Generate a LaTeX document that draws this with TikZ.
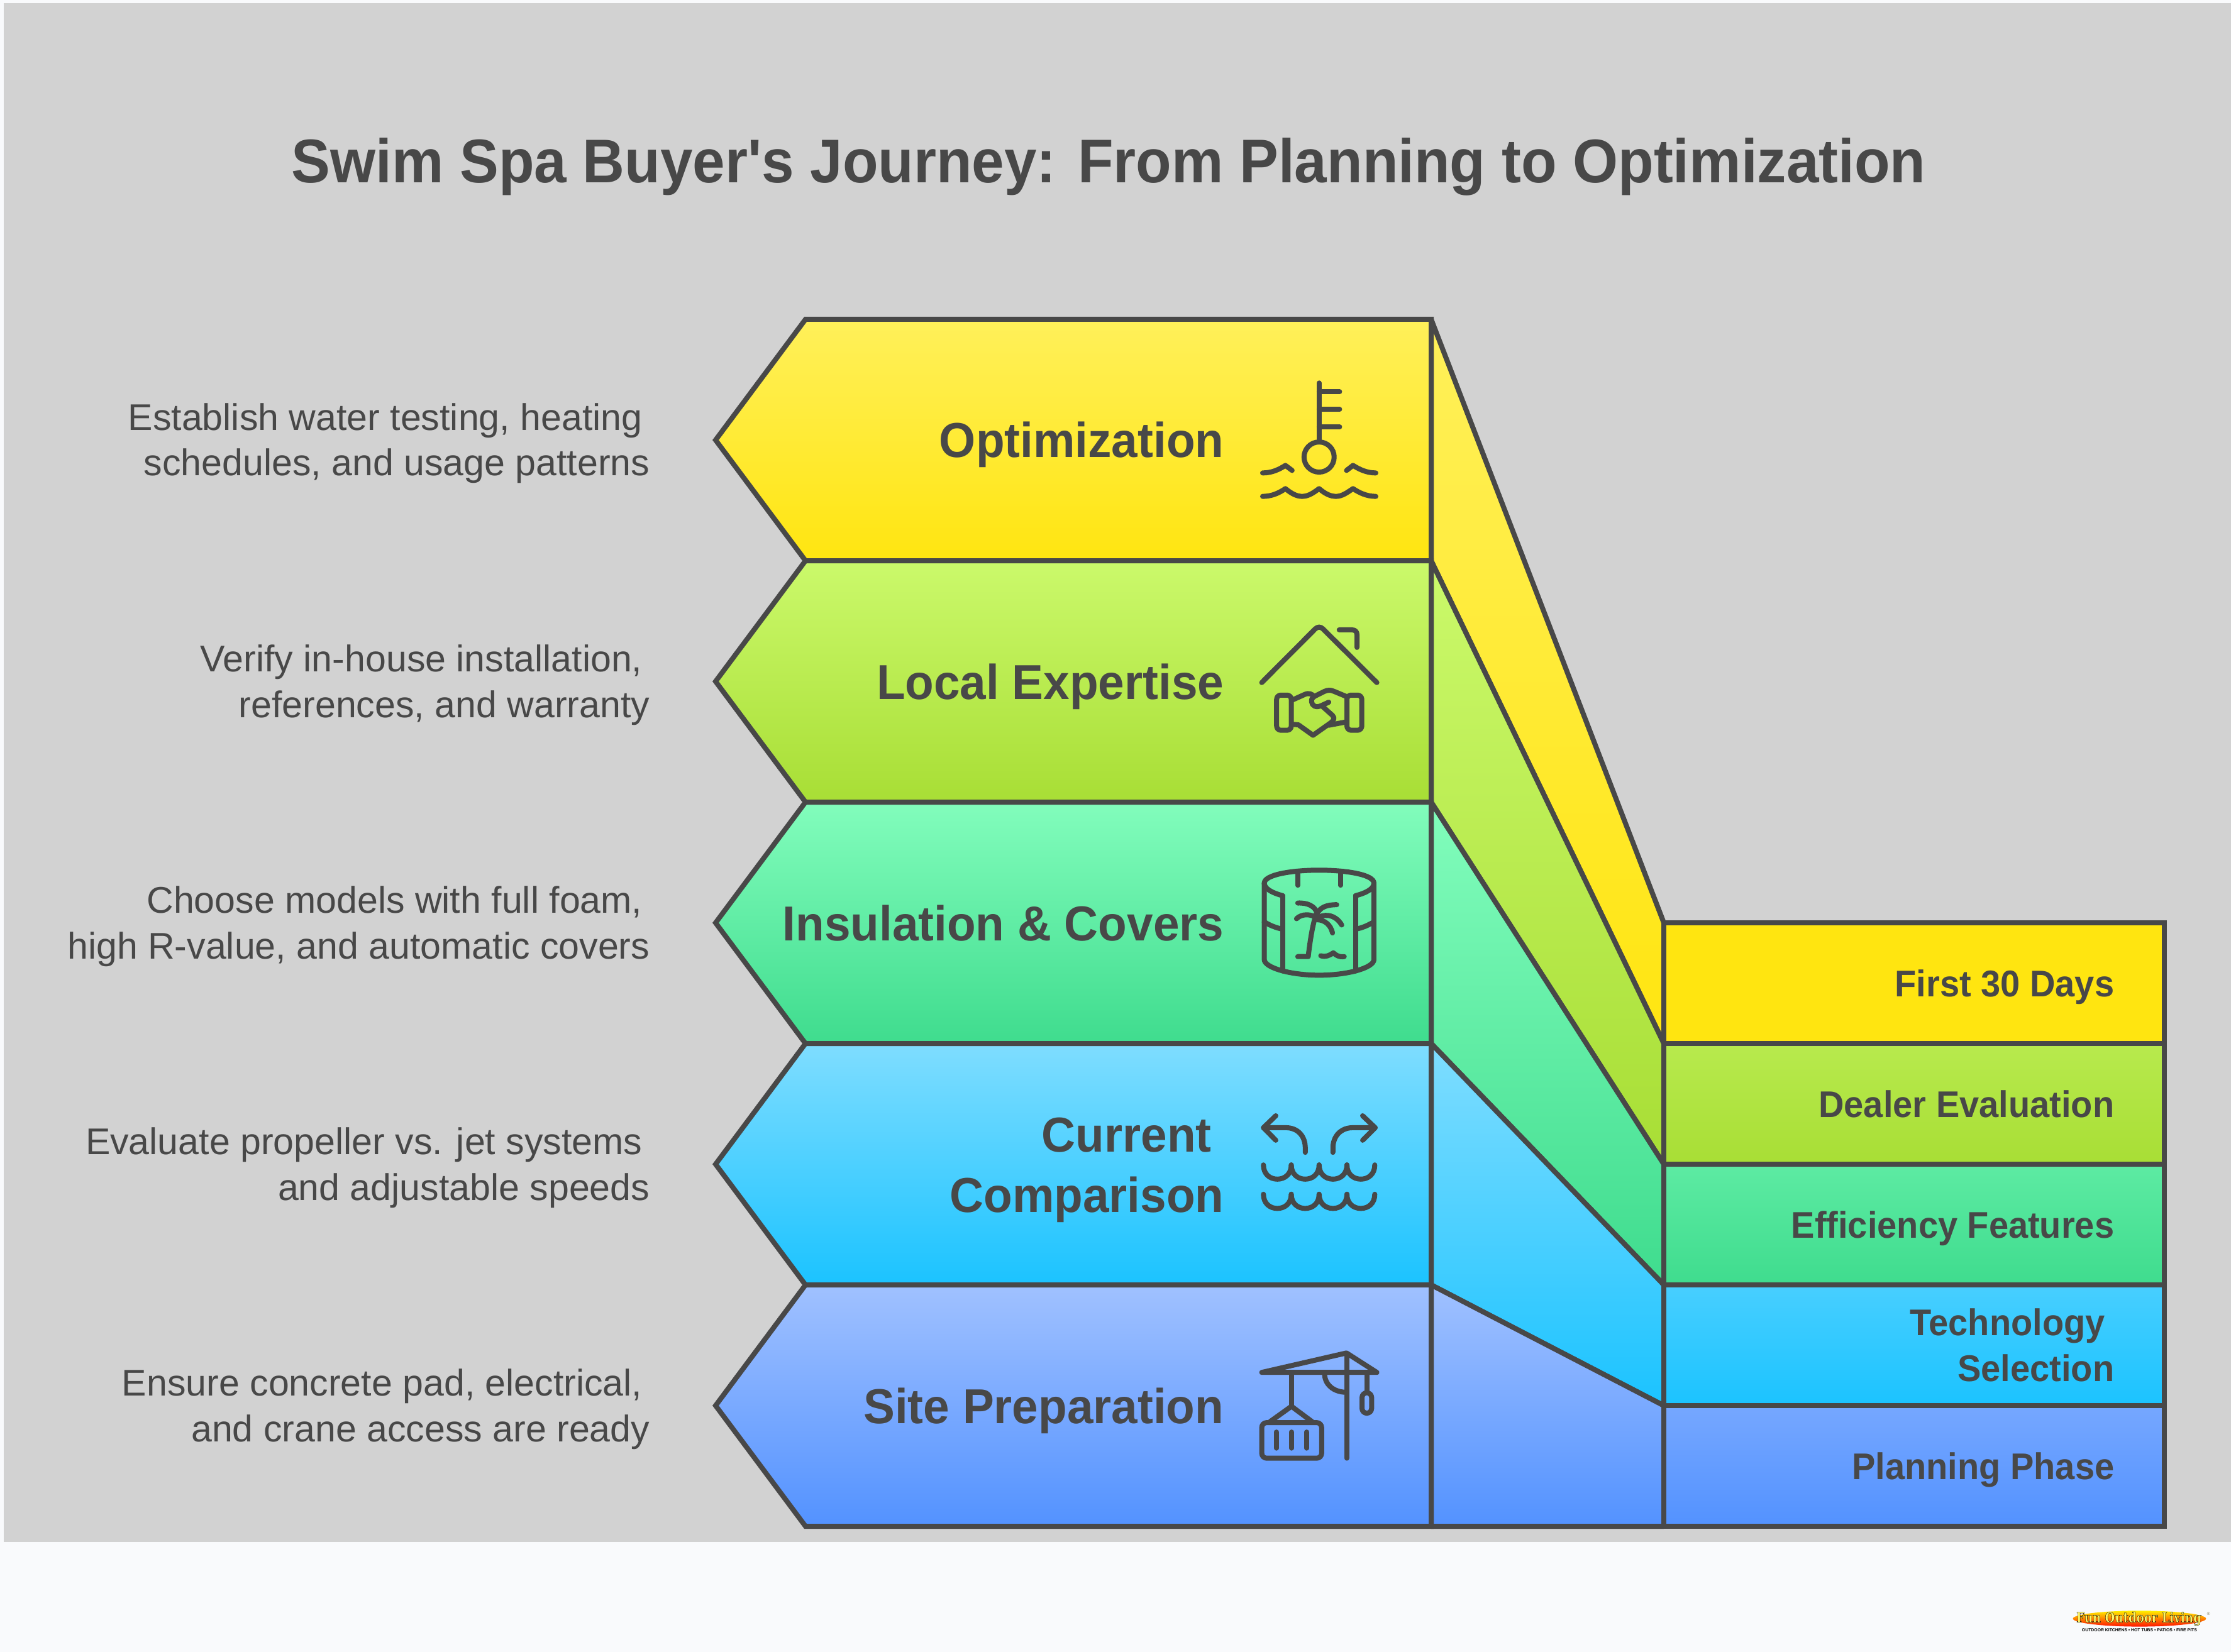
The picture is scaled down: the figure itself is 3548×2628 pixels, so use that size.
\documentclass[tikz,border=0pt]{standalone}
\usepackage{fontspec}
\setmainfont{Liberation Sans}
\newfontfamily\logofont[FakeStretch=0.82]{DejaVu Serif}
\newfontfamily\ttlfont[FakeStretch=0.944]{Liberation Sans}
\newfontfamily\mainlabelfont[FakeStretch=0.957]{Liberation Sans}
\newfontfamily\sidelabelfont[FakeStretch=0.948]{Liberation Sans}
\definecolor{ink}{HTML}{484848}
\definecolor{pagebg}{HTML}{F9FAFC}
\definecolor{panel}{HTML}{D2D2D2}
\definecolor{yA}{HTML}{FFF05A}\definecolor{yB}{HTML}{FFE510}
\definecolor{gA}{HTML}{CBF96B}\definecolor{gB}{HTML}{A8DE35}
\definecolor{tA}{HTML}{82FDBC}\definecolor{tB}{HTML}{3FDC8E}
\definecolor{bA}{HTML}{7FDDFF}\definecolor{bB}{HTML}{1BC3FF}
\definecolor{pA}{HTML}{A0C1FF}\definecolor{pB}{HTML}{5392FF}
\tikzset{
 band/.style={draw=ink,line width=8*0.01cm,line join=miter},
 slant/.style={draw=ink,line width=8*0.01cm,line join=bevel},
 icon/.style={draw=ink,line width=8*0.01cm,line cap=round,line join=round},
 ttl/.style={text=ink,font=\ttlfont\bfseries\fontsize{27.9}{32}\selectfont,inner sep=0pt,anchor=base},
 mainlabel/.style={text=ink,font=\mainlabelfont\bfseries\fontsize{22.2}{27.3}\selectfont,inner sep=0pt,anchor=base east,align=right},
 sidelabel/.style={text=ink,font=\sidelabelfont\bfseries\fontsize{16.8}{20.5}\selectfont,inner sep=0pt,anchor=base east,align=right},
 desc/.style={text=ink,font=\fontsize{16.8}{20.5}\selectfont,inner sep=0pt,anchor=base east,align=right},
 iconat/.style 2 args={shift={(#1,#2)},x=0.003333cm,y=-0.003333cm},
}
\begin{document}
\begin{tikzpicture}[x=0.01cm,y=-0.01cm]
\useasboundingbox (0,0) rectangle (3548,2628);
\fill[pagebg] (0,0) rectangle (3548,2628);
\fill[panel] (6,5) rectangle (3548,2453);
% slanted bands
\path[slant,top color=yA,bottom color=yB] (2276,508)--(2646,1468)--(2646,1660)--(2276,892)--cycle;
\path[slant,top color=gA,bottom color=gB] (2276,892)--(2646,1660)--(2646,1852)--(2276,1276)--cycle;
\path[slant,top color=tA,bottom color=tB] (2276,1276)--(2646,1852)--(2646,2044)--(2276,1660)--cycle;
\path[slant,top color=bA,bottom color=bB] (2276,1660)--(2646,2044)--(2646,2236)--(2276,2044)--cycle;
\path[slant,top color=pA,bottom color=pB] (2276,2044)--(2646,2236)--(2646,2428)--(2276,2428)--cycle;
% chevrons
\path[band,top color=yA,bottom color=yB] (1138,700)--(1281,508)--(2276,508)--(2276,892)--(1281,892)--cycle;
\path[band,top color=gA,bottom color=gB] (1138,1084)--(1281,892)--(2276,892)--(2276,1276)--(1281,1276)--cycle;
\path[band,top color=tA,bottom color=tB] (1138,1468)--(1281,1276)--(2276,1276)--(2276,1660)--(1281,1660)--cycle;
\path[band,top color=bA,bottom color=bB] (1138,1852)--(1281,1660)--(2276,1660)--(2276,2044)--(1281,2044)--cycle;
\path[band,top color=pA,bottom color=pB] (1138,2236)--(1281,2044)--(2276,2044)--(2276,2428)--(1281,2428)--cycle;
% right boxes
\path[band,fill=yB] (2646,1468) rectangle (3442,1660);
\path[band,top color=gA!45!gB,bottom color=gB] (2646,1660) rectangle (3442,1852);
\path[band,top color=tA!45!tB,bottom color=tB] (2646,1852) rectangle (3442,2044);
\path[band,top color=bA!45!bB,bottom color=bB] (2646,2044) rectangle (3442,2236);
\path[band,top color=pA!45!pB,bottom color=pB] (2646,2236) rectangle (3442,2428);
% title
\node[ttl] (title) at (1763,291) {Swim Spa Buyer's Journey: From Planning to Optimization};
% main labels
\node[mainlabel] (optimization) at (1947,728) {Optimization};
\node[mainlabel] (local) at (1947,1112) {Local Expertise};
\node[mainlabel] (insulation) at (1947,1496) {Insulation \& Covers};
\node[mainlabel] (current) at (1947,1928) {Current\hspace{0.25em}\mbox{}\\Comparison};
\node[mainlabel] (site) at (1947,2264) {Site Preparation};
% right labels
\node[sidelabel] (first) at (3363,1585) {First 30 Days};
\node[sidelabel] (dealer) at (3363,1777) {Dealer Evaluation};
\node[sidelabel] (efficiency) at (3363,1969) {Efficiency Features};
\node[sidelabel] (technology) at (3363,2197) {Technology\hspace{0.25em}\mbox{}\\Selection};
\node[sidelabel] (planning) at (3363,2353) {Planning Phase};
% descriptions
\node[desc] (d5) at (1034,757) {Establish water testing, heating\hspace{0.2em}\mbox{}\\schedules, and usage patterns};
\node[desc] (d4) at (1034,1141) {Verify in-house installation,\hspace{0.2em}\mbox{}\\references, and warranty};
\node[desc] (d3) at (1034,1525) {Choose models with full foam,\hspace{0.2em}\mbox{}\\high R-value, and automatic covers};
\node[desc] (d2) at (1034,1909) {Evaluate propeller vs. jet systems\hspace{0.2em}\mbox{}\\and adjustable speeds};
\node[desc] (d1) at (1034,2293) {Ensure concrete pad, electrical,\hspace{0.2em}\mbox{}\\and crane access are ready};
% icon: thermometer in water
\begin{scope}[iconat={1960}{570}]
\draw[icon] (414,118)--(414,400);
\draw[icon] (414,160)--(512,160) (414,244)--(512,244) (414,328)--(512,328);
\draw[icon] (414,472) circle[radius=72];
\draw[icon] (144,548) .. controls (190,548) and (225,530) .. (253,512)--(285,536);
\draw[icon] (545,536)--(576,512) .. controls (605,530) and (640,548) .. (685,548);
\draw[icon] (144,660) .. controls (190,660) and (225,642) .. (253,623)
  .. controls (280,645) and (305,660) .. (333,660) .. controls (365,660) and (390,640) .. (414,623)
  .. controls (440,645) and (465,660) .. (495,660) .. controls (525,660) and (550,640) .. (576,623)
  .. controls (605,642) and (640,660) .. (685,660);
\end{scope}
% icon: house and handshake
\begin{scope}[iconat={1960}{960}]
\draw[icon] (140,378)--(395,122) .. controls (407,110) and (421,110) .. (433,122)--(690,378);
\draw[icon] (510,126)--(570,126) .. controls (587,126) and (595,135) .. (595,150)--(595,210);
\draw[icon,rounded corners=1.9pt] (211,438) rectangle (281,606);
\draw[icon,rounded corners=1.9pt] (547,438) rectangle (618,606);
\draw[icon] (285,462)--(345,435) .. controls (365,426) and (380,432) .. (390,445);
\draw[icon] (390,445)--(440,420) .. controls (455,413) and (470,413) .. (485,420)--(545,445);
\draw[icon] (460,472)--(425,488) .. controls (400,500) and (380,490) .. (378,470) .. controls (376,458) and (382,450) .. (390,445);
\draw[icon] (430,492)--(478,535) .. controls (490,548) and (485,558) .. (470,570)--(385,630)--(315,580)--(290,578);
\draw[icon] (460,582)--(545,566);
\end{scope}
% icon: pool with palm
\begin{scope}[iconat={1960}{1350}]
\draw[icon] (240,225) .. controls (185,210) and (152,190) .. (152,165) .. controls (152,125) and (280,103) .. (414,103) .. controls (550,103) and (676,125) .. (676,165) .. controls (676,190) and (645,210) .. (588,225);
\draw[icon] (152,165)--(152,530) .. controls (152,570) and (280,605) .. (414,605) .. controls (550,605) and (676,570) .. (676,530)--(676,165);
\draw[icon] (240,225)--(240,585) (588,225)--(588,585);
\draw[icon] (312,115)--(312,175) (516,115)--(516,175);
\draw[icon] (152,350) .. controls (175,365) and (205,378) .. (240,385);
\draw[icon] (588,385) .. controls (625,378) and (650,365) .. (676,350);
\draw[icon] (312,516)--(362,516) .. controls (372,430) and (385,350) .. (405,300);
\draw[icon] (312,260) .. controls (360,258) and (395,275) .. (405,310);
\draw[icon] (405,310) .. controls (420,280) and (450,268) .. (498,268);
\draw[icon] (306,335) .. controls (330,310) and (380,310) .. (405,335);
\draw[icon] (405,335) .. controls (430,310) and (490,310) .. (522,365);
\draw[icon] (405,340) .. controls (440,340) and (470,365) .. (478,403);
\draw[icon] (422,512) .. controls (445,520) and (465,510) .. (482,498) .. controls (495,510) and (510,520) .. (534,516);
\end{scope}
% icon: diverging current
\begin{scope}[iconat={1960}{1740}]
\draw[icon] (348,280)--(348,260) .. controls (348,200) and (310,162) .. (255,162)--(148,162);
\draw[icon] (207,105)--(148,162)--(207,222);
\draw[icon] (480,280)--(480,260) .. controls (480,200) and (520,162) .. (575,162)--(682,162);
\draw[icon] (622,105)--(682,162)--(622,222);
\foreach \wy in {340,480}{
 \foreach \wx in {148,281,414,547}{
  \draw[icon] (\wx,\wy) .. controls (\wx,\wy+45) and (\wx+32,\wy+68) .. (\wx+66.5,\wy+68) .. controls (\wx+101,\wy+68) and (\wx+133,\wy+45) .. (\wx+133,\wy);
 }
}
\end{scope}
% icon: crane
\begin{scope}[iconat={1960}{2120}]
\draw[icon] (140,190)--(690,190)--(545,97)--cycle;
\draw[icon] (546,100)--(546,600);
\draw[icon] (282,190)--(282,352);
\draw[icon] (180,425)--(282,352)--(380,425);
\draw[icon,rounded corners=2.2pt] (140,430) rectangle (426,600);
\draw[icon] (210,475)--(210,552) (282,475)--(282,552) (354,475)--(354,552);
\draw[icon] (642,190)--(642,285);
\draw[icon,rounded corners=2.2pt] (619,287) rectangle (665,385);
\draw[icon] (440,195) .. controls (440,245) and (480,285) .. (546,285);
\end{scope}
% logo
\begin{scope}[iconat={3260}{2530}]
\path[top color=yellow!90!orange,bottom color=red!85!orange] (428,135) ellipse[x radius=318,y radius=38];
\node[inner sep=0pt,font=\logofont\bfseries\fontsize{6.3}{8}\selectfont] (logotext) at (425,135) {\color{yellow!60!white}\special{pdf:code 2 Tr 0.1 w 0 0 0 RG}Fun Outdoor Living\special{pdf:code 0 Tr}};
\node[inner sep=0pt,text=black,font=\bfseries\fontsize{1.95}{2.2}\selectfont] (logosub) at (428,189) {OUTDOOR KITCHENS • HOT TUBS • PATIOS • FIRE PITS};
\node[inner sep=0pt,text=black!60!yellow,font=\fontsize{1.8}{2}\selectfont] (logoreg) at (758,112) {®};
\end{scope}
\end{tikzpicture}
\end{document}
